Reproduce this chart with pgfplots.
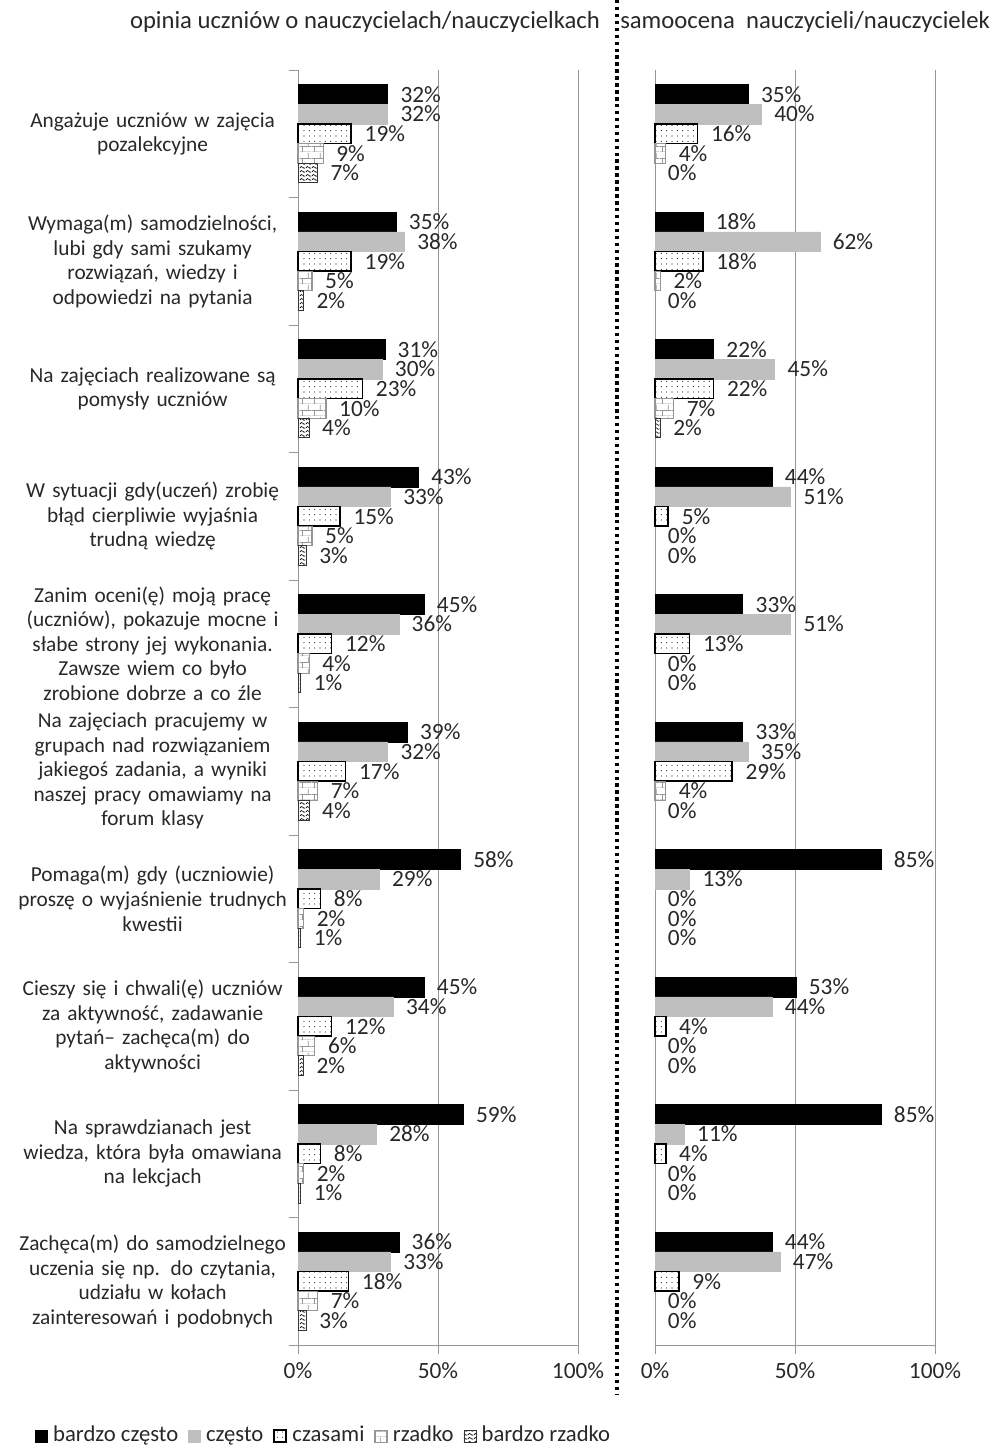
\documentclass[border=0pt]{standalone}
\usepackage{pgfplots}
\pgfplotsset{compat=1.18}
\usepackage{pgfplotstable}
\usepackage{fontspec}
\setmainfont{Carlito}
\usetikzlibrary{patterns}

% custom fill patterns
\pgfdeclarepatternformonly{sparse dots}{\pgfqpoint{-1pt}{-1pt}}{\pgfqpoint{1pt}{1pt}}{\pgfqpoint{4pt}{4pt}}{%
  \pgfpathcircle{\pgfqpoint{0pt}{0pt}}{0.42pt}\pgfusepath{fill}}
\pgfdeclarepatternformonly{brick wall}{\pgfqpoint{0pt}{0pt}}{\pgfqpoint{9pt}{9pt}}{\pgfqpoint{9pt}{9pt}}{%
  \pgfsetlinewidth{0.6pt}
  \pgfpathmoveto{\pgfqpoint{0pt}{0pt}}\pgfpathlineto{\pgfqpoint{9pt}{0pt}}
  \pgfpathmoveto{\pgfqpoint{0pt}{4.5pt}}\pgfpathlineto{\pgfqpoint{9pt}{4.5pt}}
  \pgfpathmoveto{\pgfqpoint{2pt}{0pt}}\pgfpathlineto{\pgfqpoint{2pt}{4.5pt}}
  \pgfpathmoveto{\pgfqpoint{6.5pt}{4.5pt}}\pgfpathlineto{\pgfqpoint{6.5pt}{9pt}}
  \pgfusepath{stroke}}
\pgfdeclarepatternformonly{waves}{\pgfqpoint{0pt}{0pt}}{\pgfqpoint{4.5pt}{3.2pt}}{\pgfqpoint{4.5pt}{3.2pt}}{%
  \pgfsetlinewidth{0.55pt}
  \pgfpathmoveto{\pgfqpoint{0pt}{1pt}}
  \pgfpathcurveto{\pgfqpoint{0.6pt}{2.4pt}}{\pgfqpoint{1.6pt}{2.4pt}}{\pgfqpoint{2.25pt}{1.6pt}}
  \pgfpathcurveto{\pgfqpoint{2.9pt}{0.8pt}}{\pgfqpoint{3.9pt}{0.0pt}}{\pgfqpoint{4.5pt}{1pt}}
  \pgfusepath{stroke}}

\definecolor{txt}{RGB}{40,40,40}
\definecolor{barg}{RGB}{191,191,191}
\definecolor{axg}{RGB}{150,150,150}

% columns: bardzo czesto, czesto, czasami, rzadko, bardzo rzadko
\pgfplotstableread{
bc c cz r br
32 32 19 9 7
35 38 19 5 2
31 30 23 10 4
43 33 15 5 3
45 36 12 4 1
39 32 17 7 4
58 29 8 2 1
45 34 12 6 2
59 28 8 2 1
36 33 18 7 3
}\uczniowie

\pgfplotstableread{
bc c cz r br
35 40 16 4 0
18 62 18 2 0
22 45 22 7 2
44 51 5 0 0
33 51 13 0 0
33 35 29 4 0
85 13 0 0 0
53 44 4 0 0
85 11 4 0 0
44 47 9 0 0
}\nauczyciele

\pgfplotsset{
  panel/.style={
    scale only axis,
    width=210pt, height=956.25pt,
    xbar, bar width=0.154,
    xmin=0, xmax=100, ymin=0, ymax=10,
    clip=false,
    axis x line=bottom, axis y line=left,
    axis line style={-, draw=axg},
    xtick={0,50,100}, xticklabels={0\%,50\%,100\%},
    xmajorgrids, grid style={draw=axg},
    major tick style={draw=axg},
    tick align=outside, major tick length=7pt,
    x tick label style={font=\fontsize{17.5}{20}\selectfont, text=txt, yshift=-3pt},
    /pgf/number format/assume math mode=true,
    point meta=x,
    nodes near coords={\pgfmathprintnumber{\pgfplotspointmeta}\%},
    every node near coord/.append style={font=\fontsize{17.5}{20}\selectfont, text=txt, anchor=west, inner sep=0pt, xshift=9.5pt},
  },
  leg/.style={area legend,
    legend image code/.code={\draw[##1] (0pt,-3pt) rectangle (9pt,6pt);}},
  s1/.style={fill=black, draw=black, bar shift=0.308, leg},
  s2/.style={fill=barg, draw=barg, bar shift=0.154, leg},
  s3/.style={fill=white, draw=black, line width=1.3pt, postaction={pattern=sparse dots, pattern color=black}, bar shift=0, leg},
  s4/.style={fill=white, draw=axg, line width=0.8pt, postaction={pattern=brick wall, pattern color=axg}, bar shift=-0.154, leg},
  s5/.style={fill=white, draw=black!80, line width=0.5pt, postaction={pattern=waves, pattern color=black}, bar shift=-0.308, leg},
  nozero/.style={x filter/.expression={x==0 ? nan : x}},
  onlyzero/.style={x filter/.expression={x==0 ? 0 : nan}, draw=none, fill=none, forget plot},
}

\begin{document}
\begin{tikzpicture}
\useasboundingbox (0,0) rectangle (755.25pt,1086pt);

\begin{axis}[
  panel,
  at={(223.5pt,77.25pt)}, anchor=south west,
  ytick={0,1,...,10},
  y tick label as interval,
  yticklabels={
    {Zachęca(m) do samodzielnego\\uczenia się np. do czytania,\\udziału w kołach\\zainteresowań i podobnych},
    {Na sprawdzianach jest\\wiedza, która była omawiana\\na lekcjach},
    {Cieszy się i chwali(ę) uczniów\\za aktywność, zadawanie\\pytań– zachęca(m) do\\aktywności},
    {Pomaga(m) gdy (uczniowie)\\proszę o wyjaśnienie trudnych\\kwestii},
    {Na zajęciach pracujemy w\\grupach nad rozwiązaniem\\jakiegoś zadania, a wyniki\\naszej pracy omawiamy na\\forum klasy},
    {Zanim oceni(ę) moją pracę\\(uczniów), pokazuje mocne i\\słabe strony jej wykonania.\\Zawsze wiem co było\\zrobione dobrze a co źle},
    {W sytuacji gdy(uczeń) zrobię\\błąd cierpliwie wyjaśnia\\trudną wiedzę},
    {Na zajęciach realizowane są\\pomysły uczniów},
    {Wymaga(m) samodzielności,\\lubi gdy sami szukamy\\rozwiązań, wiedzy i\\odpowiedzi na pytania},
    {Angażuje uczniów w zajęcia\\pozalekcyjne},
  },
  y tick label style={font=\fontsize{16}{18.4}\selectfont, text=txt, align=center, text width=205pt, anchor=east, xshift=4pt},
  legend style={at={(-0.939,-0.073)}, anchor=west, draw=none, fill=none,
    legend columns=-1, font=\fontsize{17}{20}\selectfont, text=txt,
    nodes={text height=1.5ex, text depth=0.45ex},
    /tikz/every odd column/.append style={column sep=2pt},
    /tikz/every even column/.append style={column sep=5.5pt},
    legend cell align=left, inner sep=0pt},
]
\addplot[s1] table[x=bc, y expr=9.5-\coordindex] {\uczniowie};
\addplot[s2] table[x=c, y expr=9.5-\coordindex] {\uczniowie};
\addplot[s3] table[x=cz, y expr=9.5-\coordindex] {\uczniowie};
\addplot[s4] table[x=r, y expr=9.5-\coordindex] {\uczniowie};
\addplot[s5] table[x=br, y expr=9.5-\coordindex] {\uczniowie};
\legend{bardzo często, często, czasami, rzadko, bardzo rzadko}
\end{axis}

% right panel: bars drawn about 5% shorter than the 0-100 grid, as in the source
\begin{axis}[
  panel,
  at={(491.25pt,77.25pt)}, anchor=south west,
  xmax=105.3, xtick={0,52.65,105.3},
  ytick=\empty,
]
\addplot[s1] table[x=bc, y expr=9.5-\coordindex] {\nauczyciele};
\addplot[s2] table[x=c, y expr=9.5-\coordindex] {\nauczyciele};
\addplot[s3, nozero] table[x=cz, y expr=9.5-\coordindex] {\nauczyciele};
\addplot[s4, nozero] table[x=r, y expr=9.5-\coordindex] {\nauczyciele};
\addplot[s5, nozero] table[x=br, y expr=9.5-\coordindex] {\nauczyciele};
\addplot[xbar, bar shift=0, onlyzero] table[x=cz, y expr=9.5-\coordindex] {\nauczyciele};
\addplot[xbar, bar shift=-0.154, onlyzero] table[x=r, y expr=9.5-\coordindex] {\nauczyciele};
\addplot[xbar, bar shift=-0.308, onlyzero] table[x=br, y expr=9.5-\coordindex] {\nauczyciele};
\end{axis}

\node[font=\fontsize{18.5}{21}\selectfont, text=txt] at (273.75pt,1069.5pt) {opinia uczniów o nauczycielach/nauczycielkach};
\node[font=\fontsize{18.5}{21}\selectfont, text=txt, anchor=west, inner sep=0pt] at (465pt,1069.5pt) {samoocena\ \ nauczycieli/nauczycielek};
\draw[black, line width=2.6pt, dash pattern=on 2.6pt off 2.6pt] (462.75pt,1086pt) -- (462.75pt,39.75pt);
\end{tikzpicture}
\end{document}
